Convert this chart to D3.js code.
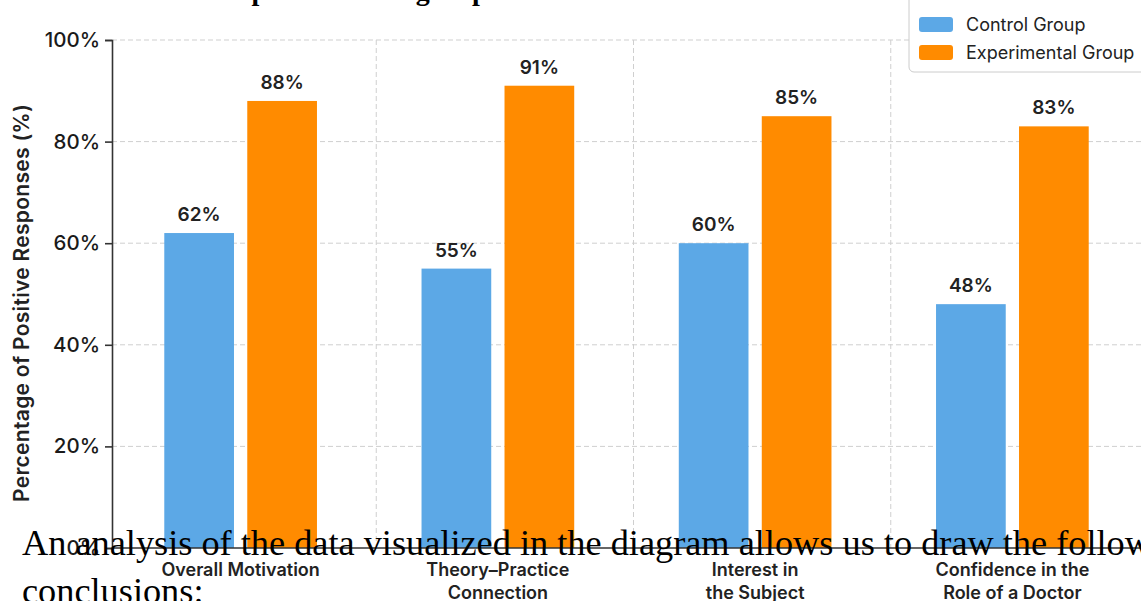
<!DOCTYPE html>
<html>
<head>
<meta charset="utf-8">
<script src="https://cdn.jsdelivr.net/npm/d3@7"></script>
<style>
  html, body { margin: 0; padding: 0; background: #ffffff; overflow: hidden; }
  svg { display: block; }
</style>
</head>
<body>
<svg id="chart"></svg>
<script>
// data
const categories = ["Overall Motivation", "Theory–Practice Connection", "Interest in the Subject", "Confidence in the Role of a Doctor"];
const categoryLines = [["Overall Motivation"], ["Theory–Practice", "Connection"], ["Interest in", "the Subject"], ["Confidence in the", "Role of a Doctor"]];
const series = ["Control Group", "Experimental Group"];
const controlValues = [62, 55, 60, 48];
const experimentalValues = [88, 91, 85, 83];
const yTicks = [20, 40, 60, 80, 100];
const colors = ["#5ca8e6", "#ff8b00"];

const titleText = "Comparison among respondents";
const yTitle = "Percentage of Positive Responses (%)";
const captionLines = ["An analysis of the data visualized in the diagram allows us to draw the following", "conclusions:"];

const width = 1141, height = 601;
const margin = {top: 40, right: 0, bottom: 53, left: 112};
const sans = "Inter, 'Liberation Sans', Arial, sans-serif";

const svg = d3.select("#chart").attr("width", width).attr("height", height);
svg.append("rect").attr("width", width).attr("height", height).attr("fill", "#ffffff");

const yScale = d3.scaleLinear().domain([0, 100]).range([height - margin.bottom, margin.top]);
const xScale = d3.scaleBand().domain(categories).range([margin.left, width]);
const xSub = d3.scaleBand().domain(series).range([0, xScale.bandwidth()])
    .paddingInner(0.16).paddingOuter(0.63);

// title, only its bottom edge shows
svg.append("text")
    .attr("x", 194).attr("y", 0)
    .style("font-family", "'Liberation Serif', 'Times New Roman', serif")
    .style("font-weight", "bold").style("font-size", "28px")
    .text(titleText);

// grid
const grid = svg.append("g").attr("class", "grid");
grid.selectAll(".hgrid").data(yTicks).join("line")
    .attr("x1", margin.left).attr("x2", width)
    .attr("y1", d => yScale(d)).attr("y2", d => yScale(d))
    .attr("stroke", "#cfcfcf").attr("stroke-dasharray", "5,3");
const dividerShift = 7;
grid.selectAll(".vgrid").data(categories.slice(1)).join("line")
    .attr("x1", d => xScale(d) + dividerShift).attr("x2", d => xScale(d) + dividerShift)
    .attr("y1", yScale(100)).attr("y2", yScale(0))
    .attr("stroke", "#cfcfcf").attr("stroke-dasharray", "5,3");

// bars
const rows = categories.map((c, i) => ({cat: c, values: [controlValues[i], experimentalValues[i]]}));
const groups = svg.selectAll(".group").data(rows).join("g")
    .attr("transform", d => `translate(${xScale(d.cat)},0)`);
groups.selectAll("rect").data(d => d.values.map((v, j) => ({key: series[j], v, j}))).join("rect")
    .attr("x", d => xSub(d.key))
    .attr("width", xSub.bandwidth())
    .attr("y", d => yScale(d.v))
    .attr("height", d => yScale(0) - yScale(d.v))
    .attr("fill", d => colors[d.j]);
groups.selectAll(".val").data(d => d.values.map((v, j) => ({key: series[j], v, j}))).join("text")
    .attr("class", "val")
    .attr("x", d => xSub(d.key) + xSub.bandwidth() / 2)
    .attr("y", d => yScale(d.v) - 12)
    .attr("text-anchor", "middle")
    .style("font-family", sans).style("font-size", "19px").style("font-weight", 600)
    .attr("fill", "#222")
    .text(d => d.v + "%");

// y axis
const yAxis = d3.axisLeft(yScale).tickValues([0].concat(yTicks))
    .tickFormat(d => d + "%").tickSize(7).tickSizeOuter(7).tickPadding(5);
const yAxisG = svg.append("g").attr("transform", `translate(${margin.left},0)`).call(yAxis);
yAxisG.selectAll("path, line").attr("stroke", "#333").attr("stroke-width", 1.6);
yAxisG.selectAll("text").style("font-family", sans).style("font-size", "20.5px")
    .style("font-weight", 500).attr("fill", "#1a1a1a");

// baseline
svg.append("line")
    .attr("x1", margin.left).attr("x2", width)
    .attr("y1", yScale(0)).attr("y2", yScale(0))
    .attr("stroke", "#333").attr("stroke-width", 1.6);

// category labels
svg.selectAll(".xlab").data(categories).join("text")
    .attr("class", "xlab")
    .attr("x", d => xScale(d) + xScale.bandwidth() / 2)
    .attr("y", 576)
    .attr("text-anchor", "middle")
    .style("font-family", sans).style("font-size", "18px").style("font-weight", 600)
    .attr("fill", "#222")
    .each(function(d, i) {
      d3.select(this).selectAll("tspan").data(categoryLines[i]).join("tspan")
        .attr("x", xScale(d) + xScale.bandwidth() / 2)
        .attr("dy", (l, k) => k === 0 ? 0 : 23)
        .text(l => l);
    });

// y title
svg.append("text")
    .attr("transform", `translate(29,${(yScale(0) + yScale(100)) / 2 + 9}) rotate(-90)`)
    .attr("text-anchor", "middle")
    .style("font-family", sans).style("font-size", "21px").style("font-weight", 600)
    .style("letter-spacing", "0.3px")
    .attr("fill", "#222")
    .text(yTitle);

// legend
const legend = svg.append("g").attr("transform", "translate(909,0)");
legend.append("rect")
    .attr("x", 0).attr("y", -10).attr("width", 260).attr("height", 82).attr("rx", 5)
    .attr("fill", "#fff").attr("stroke", "#cccccc");
series.forEach((s, i) => {
  legend.append("rect")
      .attr("x", 10).attr("y", 17 + i * 28).attr("width", 34).attr("height", 15).attr("rx", 3)
      .attr("fill", colors[i]);
  legend.append("text")
      .attr("x", 57).attr("y", 31 + i * 28)
      .style("font-family", sans).style("font-size", "18px")
      .attr("fill", "#222")
      .text(s);
});

// overlaid caption text
svg.selectAll(".caption").data(captionLines).join("text")
    .attr("class", "caption")
    .attr("x", 22)
    .attr("y", (d, i) => 555 + i * 48)
    .style("font-family", "'Liberation Serif', 'Times New Roman', serif")
    .style("font-size", "36.3px")
    .attr("fill", "#000")
    .text(d => d);
</script>
</body>
</html>
